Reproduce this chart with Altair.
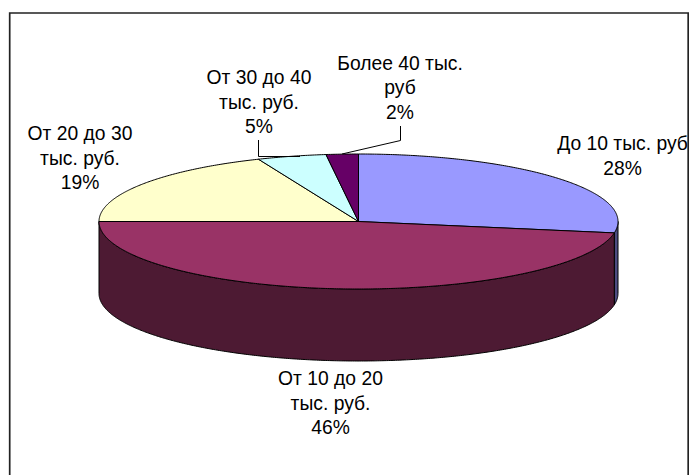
import numpy as np
import pandas as pd
import altair as alt

NAMES = ["До 10 тыс. руб", "От 10 до 20 тыс. руб.", "От 20 до 30 тыс. руб.", "От 30 до 40 тыс. руб.", "Более 40 тыс. руб"]
SHARES = [27.7, 47.3, 18.7, 4.3, 2.0]
LABELS = ["До 10 тыс. руб\n28%", "От 10 до 20\nтыс. руб.\n46%", "От 20 до 30\nтыс. руб.\n19%", "От 30 до 40\nтыс. руб.\n5%", "Более 40 тыс.\nруб\n2%"]
TOPS = ["#9999FF", "#993366", "#FFFFCC", "#CCFFFF", "#660066"]
SIDES = ["#4C4C80", "#4D1A33"]

W, H = 681, 467
CX, CY, RX, RY, DEPTH = 358.5, 221.5, 259.5, 67.5, 72
LABEL_X = [622.5, 330.5, 80, 259, 400]
LABEL_Y = [144, 379, 134, 78, 63.5]
LEADERS = [[(258.5, 140), (258.5, 156.5), (300, 156.5)], [(400.5, 126), (400.5, 140.5), (342, 154)]]
FRAME = [(9.7, 480), (9.7, 13), (688.2, 13), (688.2, 480)]

x_scale = alt.Scale(domain=[8, 8 + W], range=[0, W], nice=False, zero=False)
y_scale = alt.Scale(domain=[8, 8 + H], range=[0, H], nice=False, zero=False)


def line_layer(points, **style):
    df = pd.DataFrame(points, columns=["x", "y"]).assign(i=lambda d: range(len(d)))
    return alt.Chart(df).mark_line(clip=True, **style).encode(
        x=alt.X("x:Q", scale=x_scale, axis=None),
        y=alt.Y("y:Q", scale=y_scale, axis=None),
        order="i:Q",
    )


def rim(a, b, dy=0.0):
    t = np.radians(np.linspace(a, b, max(int(abs(b - a)) * 2, 2) + 1))
    return [(CX + RX * np.sin(v), CY - RY * np.cos(v) + dy) for v in t]


edges = np.cumsum([0] + SHARES) / sum(SHARES) * 360
layers = []

# rim sides: the visible lower half, 90 to 270 degrees
side_parts = [(90, edges[1], SIDES[0]), (edges[1], 270, SIDES[1])]
for a, b, col in side_parts:
    pts = rim(a, b) + rim(b, a, DEPTH)
    pts.append(pts[0])
    layers.append(line_layer(pts, fill=col, stroke="black", strokeWidth=1))

# top face
for k, col in enumerate(TOPS):
    pts = [(CX, CY)] + rim(edges[k], edges[k + 1]) + [(CX, CY)]
    layers.append(line_layer(pts, fill=col, stroke="black", strokeWidth=1))

for leader in LEADERS:
    layers.append(line_layer(leader, stroke="black", strokeWidth=1))

layers.append(line_layer(FRAME, stroke="#222222", strokeWidth=1.7))

label_df = pd.DataFrame({"name": NAMES, "text": LABELS, "x": LABEL_X, "y": LABEL_Y})
layers.append(
    alt.Chart(label_df)
    .mark_text(font="Liberation Sans", fontSize=19.3, color="black", align="center", baseline="middle",
               lineBreak="\n", lineHeight=24.5)
    .encode(
        x=alt.X("x:Q", scale=x_scale, axis=None),
        y=alt.Y("y:Q", scale=y_scale, axis=None),
        text="text:N",
    )
)

chart = (
    alt.layer(*layers)
    .properties(width=W, height=H, padding=0, autosize=alt.AutoSizeParams(type="none"), background="white")
    .configure_view(stroke=None)
)
chart.save("out.html", embed_options={"renderer": "svg", "actions": False})
